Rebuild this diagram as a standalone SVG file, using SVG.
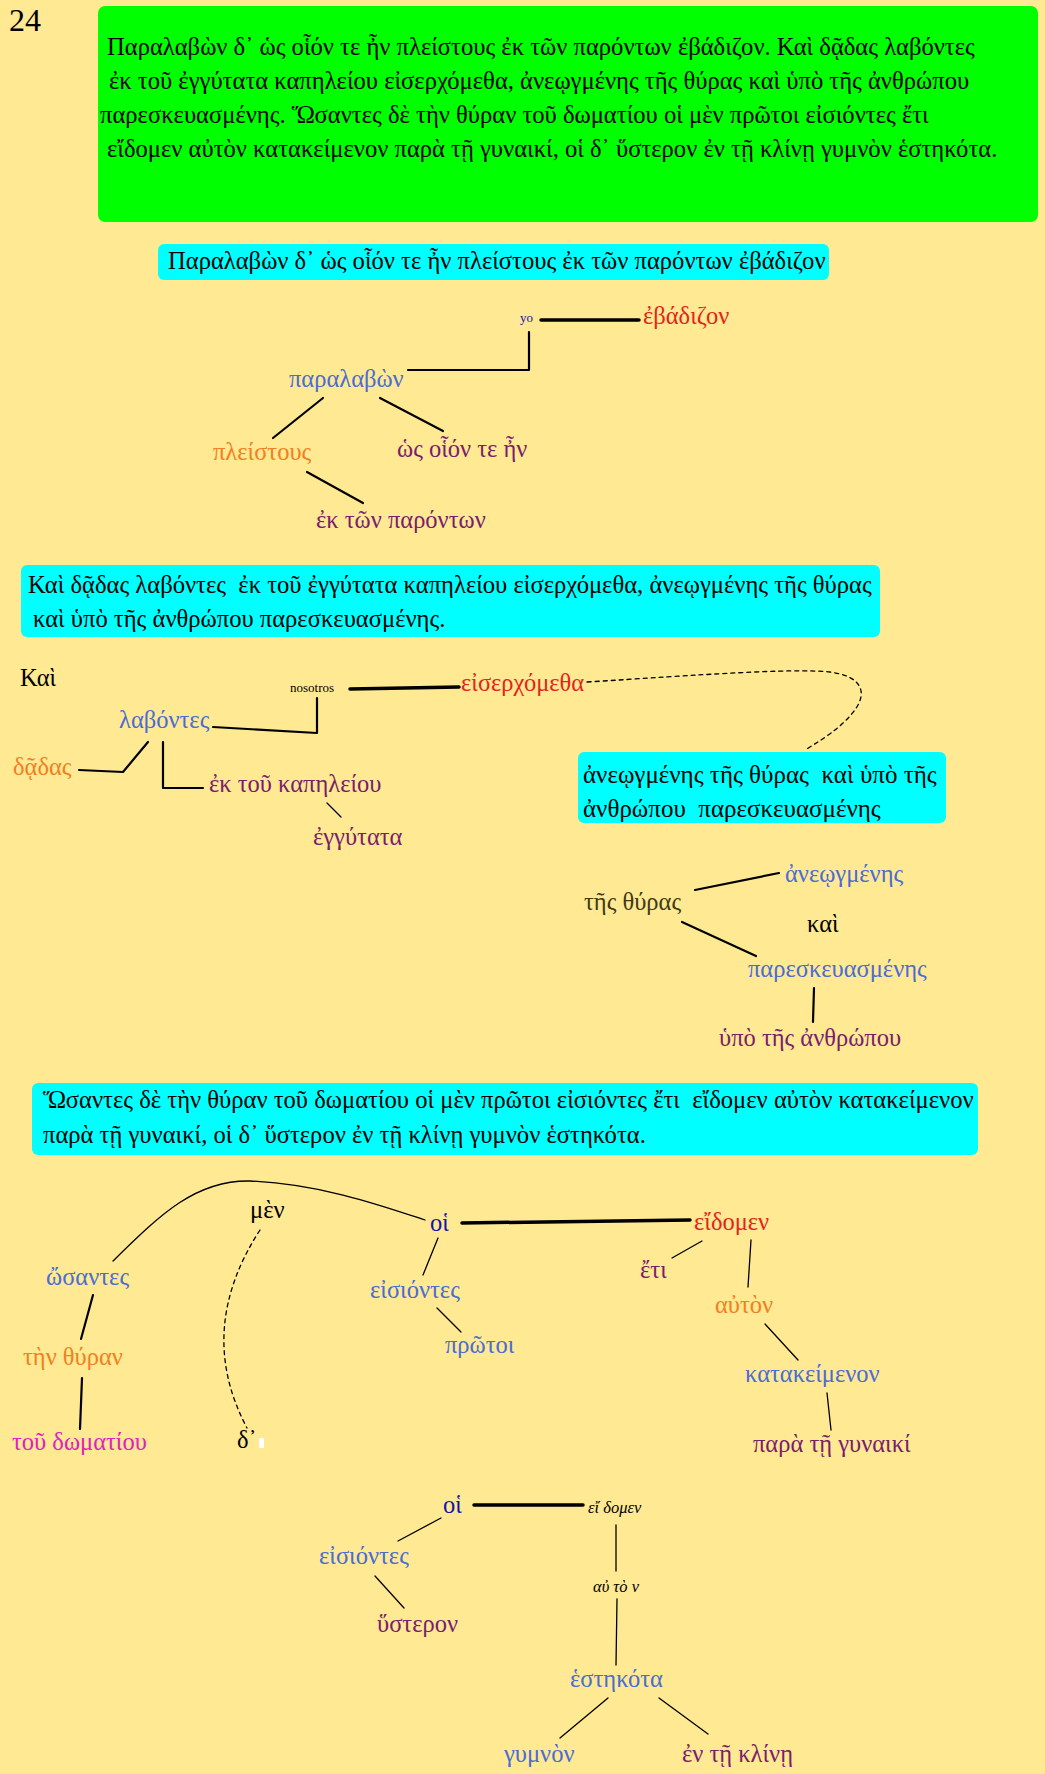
<svg xmlns="http://www.w3.org/2000/svg" width="1045" height="1774" viewBox="0 0 1045 1774">
<style>
text{font-family:"Liberation Serif","DejaVu Serif",serif;font-size:24.5px}
.bx{font-size:24.6px;fill:#000}
.bx3{font-size:25px;fill:#000}
.blue{fill:#4a6cd4}.orange{fill:#f08020}.purple{fill:#7a1d6c}.red{fill:#e3241b}
.navy{fill:#1414a8}.mag{fill:#e020c0}.olive{fill:#403a12}.blk{fill:#000}
.small{font-size:13px}
.it{font-style:italic;font-size:16.5px;fill:#000}
.ln{stroke:#000;fill:none;stroke-linecap:round;stroke-linejoin:round}
.w1{stroke-width:1.3}.w2{stroke-width:2.2}.w3{stroke-width:3.5}
.dash{stroke-dasharray:4 4;stroke-width:1.3}
.green{fill:#00ff00}.cyan{fill:#00ffff}
</style>
<rect width="1045" height="1774" fill="#ffe993"/>
<text x="9" y="31" style="font-size:32px" class="blk">24</text>

<g id="box-main">
<rect class="green" x="98" y="6" width="940" height="216" rx="7"/>
<text class="bx" x="107" y="55">Παραλαβὼν δ᾽ ὡς οἷόν τε ἦν πλείστους ἐκ τῶν παρόντων ἐβάδιζον. Καὶ δᾷδας λαβόντες</text>
<text class="bx" x="109" y="89">ἐκ τοῦ ἐγγύτατα καπηλείου εἰσερχόμεθα, ἀνεῳγμένης τῆς θύρας καὶ ὑπὸ τῆς ἀνθρώπου</text>
<text class="bx" x="100" y="123">παρεσκευασμένης. Ὥσαντες δὲ τὴν θύραν τοῦ δωματίου οἱ μὲν πρῶτοι εἰσιόντες ἔτι</text>
<text class="bx" x="107" y="157">εἴδομεν αὐτὸν κατακείμενον παρὰ τῇ γυναικί, οἱ δ᾽ ὕστερον ἐν τῇ κλίνῃ γυμνὸν ἑστηκότα.</text>
</g>

<g id="box-1">
<rect class="cyan" x="158" y="244" width="671" height="36" rx="6"/>
<text class="bx" x="168" y="269">Παραλαβὼν δ᾽ ὡς οἷόν τε ἦν πλείστους ἐκ τῶν παρόντων ἐβάδιζον</text>
</g>

<g id="box-2">
<rect class="cyan" x="21" y="565" width="859" height="72" rx="6"/>
<text class="bx" x="28" y="593" xml:space="preserve">Καὶ δᾷδας λαβόντες  ἐκ τοῦ ἐγγύτατα καπηλείου εἰσερχόμεθα, ἀνεῳγμένης τῆς θύρας</text>
<text class="bx" x="33" y="627">καὶ ὑπὸ τῆς ἀνθρώπου παρεσκευασμένης.</text>
</g>

<g id="box-3">
<rect class="cyan" x="578" y="752" width="368" height="71" rx="6"/>
<text class="bx3" x="583" y="783" xml:space="preserve">ἀνεῳγμένης τῆς θύρας  καὶ ὑπὸ τῆς</text>
<text class="bx3" x="583" y="817" xml:space="preserve">ἀνθρώπου  παρεσκευασμένης</text>
</g>

<g id="box-4">
<rect class="cyan" x="32" y="1083" width="946" height="72" rx="6"/>
<text class="bx" x="43" y="1108" xml:space="preserve">Ὥσαντες δὲ τὴν θύραν τοῦ δωματίου οἱ μὲν πρῶτοι εἰσιόντες ἔτι  εἴδομεν αὐτὸν κατακείμενον</text>
<text class="bx" x="43" y="1143">παρὰ τῇ γυναικί, οἱ δ᾽ ὕστερον ἐν τῇ κλίνῃ γυμνὸν ἑστηκότα.</text>
</g>

<g id="connectors">
<!-- tree 1 -->
<line class="ln w3" x1="541" y1="320" x2="639" y2="320"/>
<polyline class="ln w2" points="408,370 529,370 529,332"/>
<line class="ln w2" x1="323" y1="398" x2="273" y2="438"/>
<line class="ln w2" x1="380" y1="398" x2="443" y2="431"/>
<line class="ln w2" x1="307" y1="472" x2="363" y2="503"/>
<!-- tree 2 -->
<line class="ln w3" x1="350" y1="689" x2="459" y2="687"/>
<path class="ln dash" d="M587,682 C 700,675 790,668 830,672 C 860,676 866,690 858,705 C 848,722 830,735 805,750"/>
<polyline class="ln w2" points="317,698 317,733 213,727"/>
<polyline class="ln w2" points="148,742 123,772 79,770"/>
<polyline class="ln w2" points="163,742 163,788 203,788"/>
<line class="ln w1" x1="327" y1="803" x2="341" y2="817"/>
<!-- tree 3 -->
<line class="ln w2" x1="695" y1="890" x2="779" y2="873"/>
<line class="ln w2" x1="682" y1="922" x2="756" y2="956"/>
<line class="ln w2" x1="814" y1="988" x2="813" y2="1022"/>
<!-- tree 4 -->
<path class="ln w1" d="M113,1261 C 160,1215 195,1180 250,1181 C 320,1184 380,1205 425,1220"/>
<path class="ln dash" d="M260,1230 Q 195,1330 247,1428"/>
<line class="ln w3" x1="462" y1="1223" x2="690" y2="1220"/>
<line class="ln w1" x1="438" y1="1238" x2="423" y2="1275"/>
<line class="ln w1" x1="437" y1="1308" x2="461" y2="1332"/>
<line class="ln w2" x1="93" y1="1295" x2="81" y2="1339"/>
<line class="ln w2" x1="82" y1="1378" x2="80" y2="1429"/>
<line class="ln w1" x1="702" y1="1241" x2="672" y2="1258"/>
<line class="ln w1" x1="751" y1="1240" x2="748" y2="1287"/>
<line class="ln w1" x1="765" y1="1324" x2="798" y2="1360"/>
<line class="ln w1" x1="827" y1="1393" x2="831" y2="1430"/>
<!-- tree 5 -->
<line class="ln w3" x1="474" y1="1505" x2="583" y2="1505"/>
<line class="ln w1" x1="441" y1="1518" x2="398" y2="1541"/>
<line class="ln w1" x1="375" y1="1576" x2="404" y2="1608"/>
<line class="ln w1" x1="616" y1="1525" x2="616" y2="1571"/>
<line class="ln w1" x1="617" y1="1599" x2="616" y2="1665"/>
<line class="ln w1" x1="608" y1="1698" x2="560" y2="1738"/>
<line class="ln w1" x1="659" y1="1698" x2="708" y2="1734"/>
</g>

<!-- tree 1 nodes -->
<g id="n-yo"><text class="navy small" x="520" y="322">yo</text></g>
<g id="n-ebadizon"><text class="red" x="643" y="324">ἐβάδιζον</text></g>
<g id="n-paralabon"><text class="blue" x="289" y="387">παραλαβὼν</text></g>
<g id="n-pleistous"><text class="orange" x="213" y="460">πλείστους</text></g>
<g id="n-hos"><text class="purple" x="397" y="457">ὡς οἷόν τε ἦν</text></g>
<g id="n-ek-ton"><text class="purple" x="316" y="528">ἐκ τῶν παρόντων</text></g>

<!-- tree 2 nodes -->
<g id="n-kai1"><text class="blk" x="20" y="686">Καὶ</text></g>
<g id="n-nosotros"><text class="blk small" x="290" y="692">nosotros</text></g>
<g id="n-eiserch"><text class="red" x="461" y="691">εἰσερχόμεθα</text></g>
<g id="n-labontes"><text class="blue" x="119" y="728">λαβόντες</text></g>
<g id="n-dadas"><text class="orange" x="13" y="775">δᾷδας</text></g>
<g id="n-kapeleiou"><text class="purple" x="209" y="792">ἐκ τοῦ καπηλείου</text></g>
<g id="n-engutata"><text class="purple" x="313" y="845">ἐγγύτατα</text></g>

<!-- tree 3 nodes -->
<g id="n-aneogmenes"><text class="blue" x="785" y="882">ἀνεῳγμένης</text></g>
<g id="n-thuras"><text class="olive" x="584" y="910">τῆς θύρας</text></g>
<g id="n-kai2"><text class="blk" x="807" y="932">καὶ</text></g>
<g id="n-pareskeu"><text class="blue" x="748" y="977">παρεσκευασμένης</text></g>
<g id="n-hupo"><text class="purple" x="719" y="1046">ὑπὸ τῆς ἀνθρώπου</text></g>

<!-- tree 4 nodes -->
<g id="n-men"><text class="blk" x="250" y="1218">μὲν</text></g>
<g id="n-de"><text class="blk" x="237" y="1448">δ᾽</text><rect x="259" y="1438" width="5" height="10" fill="#fff"/></g>
<g id="n-hoi1"><text class="navy" x="430" y="1231">οἱ</text></g>
<g id="n-eidomen1"><text class="red" x="694" y="1230">εἴδομεν</text></g>
<g id="n-eisiontes1"><text class="blue" x="370" y="1298">εἰσιόντες</text></g>
<g id="n-protoi"><text class="blue" x="445" y="1353">πρῶτοι</text></g>
<g id="n-osantes"><text class="blue" x="46" y="1285">ὤσαντες</text></g>
<g id="n-thuran"><text class="orange" x="23" y="1365">τὴν θύραν</text></g>
<g id="n-domatiou"><text class="mag" x="12" y="1450">τοῦ δωματίου</text></g>
<g id="n-eti"><text class="purple" x="640" y="1278">ἔτι</text></g>
<g id="n-auton1"><text class="orange" x="715" y="1313">αὐτὸν</text></g>
<g id="n-katakeimenon"><text class="blue" x="745" y="1382">κατακείμενον</text></g>
<g id="n-para"><text class="purple" x="753" y="1452">παρὰ τῇ γυναικί</text></g>

<!-- tree 5 nodes -->
<g id="n-hoi2"><text class="navy" x="443" y="1513">οἱ</text></g>
<g id="n-eidomen2"><text class="it" x="588" y="1513">εἴ δομεν</text></g>
<g id="n-eisiontes2"><text class="blue" x="319" y="1564">εἰσιόντες</text></g>
<g id="n-husteron"><text class="purple" x="377" y="1632">ὕστερον</text></g>
<g id="n-auton2"><text class="it" x="593" y="1592">αὐ τὸ ν</text></g>
<g id="n-hestekota"><text class="blue" x="570" y="1687">ἑστηκότα</text></g>
<g id="n-gumnon"><text class="blue" x="504" y="1762">γυμνὸν</text></g>
<g id="n-en-klinei"><text class="purple" x="682" y="1762">ἐν τῇ κλίνῃ</text></g>
</svg>
